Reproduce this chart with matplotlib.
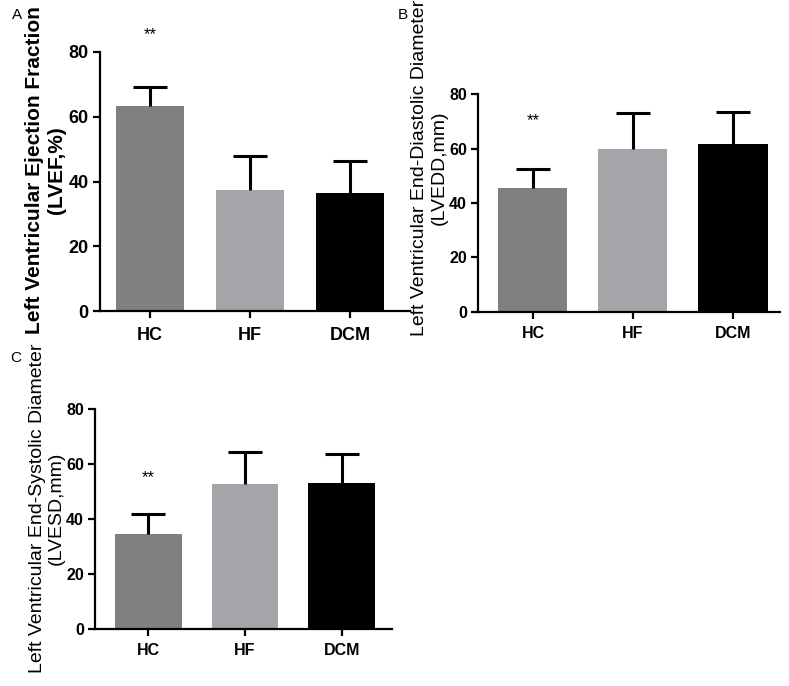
import numpy as np
import matplotlib
matplotlib.use('Agg')
import matplotlib.pyplot as plt

plt.rcParams['font.family'] = ['Liberation Sans Narrow', 'Liberation Sans', 'DejaVu Sans']

groups = ['HC', 'HF', 'DCM']
colors = ['#808080', '#a5a5a9', '#000000']

# mean and SD
lvef_mean = [63.3, 37.4, 36.5]
lvef_sd = [5.8, 10.6, 9.8]
lvedd_mean = [45.4, 59.9, 61.7]
lvedd_sd = [7.0, 13.1, 11.8]
lvesd_mean = [34.6, 52.8, 53.3]
lvesd_sd = [7.1, 11.8, 10.3]

fig = plt.figure(figsize=(7.89, 6.86), dpi=100)

def panel(rect, mean, sd, ylabel, star_y, xlim, lab_xy, lab_size, lab_weight, tick_size, bw, pad):
    ax = fig.add_axes(rect)
    x = np.arange(len(groups))
    ax.bar(x, mean, width=bw, color=colors, zorder=2)
    # only the upper half of the SD bar, as in GraphPad
    _, caps, _ = ax.errorbar(x, mean, yerr=[np.zeros(len(sd)), sd], fmt='none', ecolor='k',
                             elinewidth=2.2, capsize=12, capthick=2.2, zorder=3)
    caps[0].set_visible(False)
    ax.text(0, star_y, '**', ha='center', va='center', fontsize=12, clip_on=False)
    ax.set_xlim(*xlim)
    ax.set_ylim(0, 80)
    ax.set_yticks([0, 20, 40, 60, 80])
    ax.set_xticks(x)
    ax.set_xticklabels(groups)
    for s in ['top', 'right']:
        ax.spines[s].set_visible(False)
    for s in ['left', 'bottom']:
        ax.spines[s].set_linewidth(1.6)
    ax.tick_params(width=1.6, length=5, labelsize=tick_size, pad=3)
    ax.tick_params(axis='x', pad=pad)
    for t in ax.get_xticklabels() + ax.get_yticklabels():
        t.set_fontweight('bold')
    ax.text(lab_xy[0], lab_xy[1], ylabel, transform=ax.transAxes, rotation=90,
            ha='center', va='center', multialignment='center',
            fontsize=lab_size, fontweight=lab_weight, family=['Liberation Sans', 'DejaVu Sans'])
    return ax

panel([0.1267, 0.5466, 0.3929, 0.3776], lvef_mean, lvef_sd,
      'Left Ventricular Ejection Fraction\n(LVEF,%)', 85.3, (-0.5, 2.6),
      (-0.175, 0.545), 15, 'bold', 13, 0.68, 6.5)
panel([0.6058, 0.5456, 0.3828, 0.3169], lvedd_mean, lvedd_sd,
      'Left Ventricular End-Diastolic Diameter\n(LVEDD,mm)', 70.5, (-0.55, 2.47),
      (-0.16, 0.66), 14, 'normal', 11.5, 0.69, 5)
panel([0.1204, 0.0831, 0.3764, 0.3203], lvesd_mean, lvesd_sd,
      'Left Ventricular End-Systolic Diameter\n(LVESD,mm)', 55, (-0.55, 2.52),
      (-0.162, 0.55), 14, 'normal', 11.5, 0.69, 5)

fig.text(12 / 789, 1 - 15 / 686, 'A', fontsize=11, ha='left', va='center', family='Liberation Sans')
fig.text(398 / 789, 1 - 15 / 686, 'B', fontsize=11, ha='left', va='center', family='Liberation Sans')
fig.text(10 / 789, 1 - 358 / 686, 'C', fontsize=11, ha='left', va='center', family='Liberation Sans')

fig.savefig('out.png', dpi=100)
